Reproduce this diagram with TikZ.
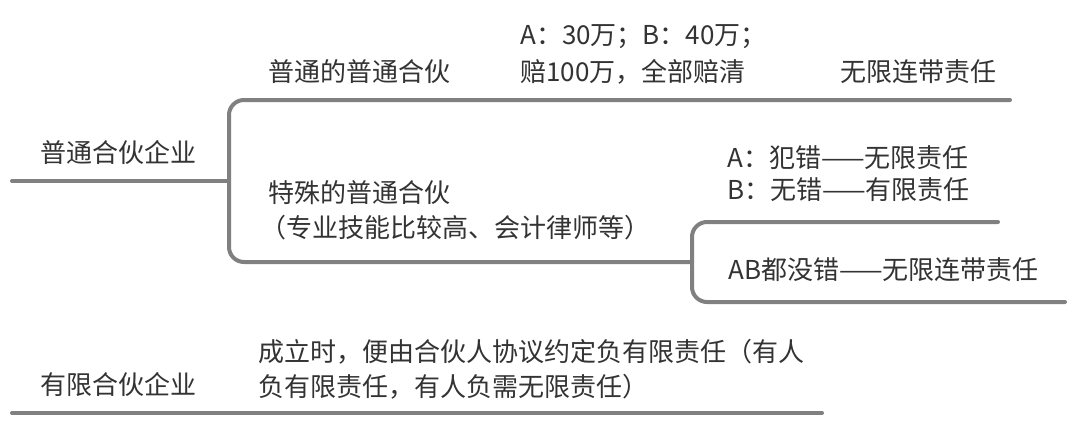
\documentclass[tikz,border=0pt]{standalone}
\usepackage{fontspec}
\setmainfont{Noto Sans CJK SC}
\begin{document}
\begin{tikzpicture}[x=1pt,y=-1pt,
  br/.style={draw=black!50, line width=4pt, rounded corners=15pt, line cap=round},
  lbl/.style={anchor=west, inner sep=0pt, text=black!80, font=\fontsize{26}{30}\selectfont, align=left}]
\useasboundingbox[fill=white] (0,0) rectangle (1080,442);
% coordinates
\coordinate (m0) at (12,181);
\coordinate (m1) at (229,181);
\coordinate (t1) at (1010,100);
\coordinate (tc) at (229,100);
\coordinate (bc) at (229,262);
\coordinate (b1) at (692,262);
\coordinate (s1) at (998,222);
\coordinate (sc) at (692,222);
\coordinate (sd) at (692,302);
\coordinate (s2) at (1065,302);
\coordinate (l0) at (12,413);
\coordinate (l1) at (822,413);
\draw[br] (m0) -- (m1);
\draw[br] (t1) -- (tc) -- (bc) -- (b1);
\draw[br] (s1) -- (sc) -- (sd) -- (s2);
\draw[br] (l0) -- (l1);
% texts
\node[lbl] (n1) at (40,152) {普通合伙企业};
\node[lbl] (n2) at (268,72) {普通的普通合伙};
\node[lbl] (n3) at (520,37) {A：30万；B：40万；};
\node[lbl] (n4) at (520,72) {赔100万，全部赔清};
\node[lbl] (n5) at (840,72) {无限连带责任};
\node[lbl] (n6) at (727,158) {A：犯错——无限责任};
\node[lbl] (n7) at (727,190) {B：无错——有限责任};
\node[lbl] (n8) at (268,193) {特殊的普通合伙};
\node[lbl] (n9) at (260,228) {（专业技能比较高、会计律师等）};
\node[lbl] (n10) at (728,270) {AB都没错——无限连带责任};
\node[lbl] (n11) at (258,352) {成立时，便由合伙人协议约定负有限责任（有人};
\node[lbl] (n12) at (258,387) {负有限责任，有人负需无限责任）};
\node[lbl] (n13) at (40,384) {有限合伙企业};
\end{tikzpicture}
\end{document}
